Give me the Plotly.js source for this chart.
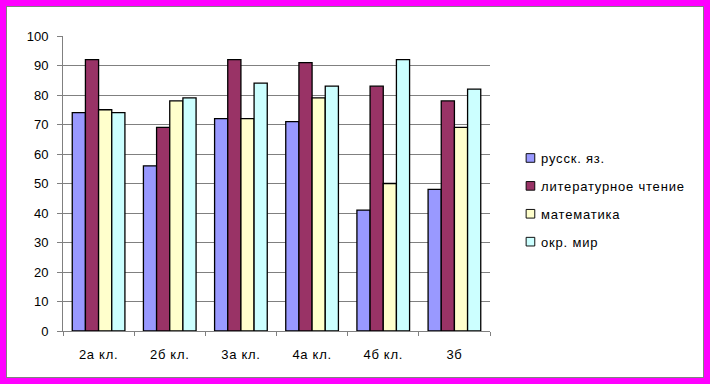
<!DOCTYPE html>
<html>
<head>
<meta charset="utf-8">
<script src="https://cdn.plot.ly/plotly-3.0.1.min.js"></script>
<style>
html,body{margin:0;padding:0;background:#FF00FF;}
#wrap{width:698px;height:372px;padding:6px;background:#FF00FF;}
#chart{width:696px;height:370px;border:1px solid #808080;background:#fff;overflow:hidden;}
#chart .legendtext{letter-spacing:0.8px;transform:translateX(-15px);}
#chart .legendpoints{transform:scale(0.72);}
#chart .xtick text{letter-spacing:0.7px;}
</style>
</head>
<body>
<div id="wrap"><div id="chart"></div></div>
<script>
var categories = ["2а кл.", "2б кл.", "3а кл.", "4а кл.", "4б кл.", "3б"];
var seriesNames = ["русск. яз.", "литературное чтение", "математика", "окр. мир"];
var russian = [74, 56, 72, 71, 41, 48];
var literature = [92, 69, 92, 91, 83, 78];
var maths = [75, 78, 72, 79, 50, 69];
var world = [74, 79, 84, 83, 92, 82];
var yTicks = [0, 10, 20, 30, 40, 50, 60, 70, 80, 90, 100];

var colors = ["#9999FF", "#993366", "#FFFFCC", "#CCFFFF"];
var values = [russian, literature, maths, world];

var traces = values.map(function (v, i) {
  return {
    type: "bar",
    x: categories,
    y: v,
    name: seriesNames[i],
    legendgroup: "g" + i,
    marker: {color: colors[i], line: {color: "#000000", width: 1.3}},
    hoverinfo: "x+y+name"
  };
});

var layout = {
  width: 696,
  height: 370,
  margin: {l: 56, r: 213, t: 29, b: 46, autoexpand: false},
  paper_bgcolor: "#ffffff",
  plot_bgcolor: "#ffffff",
  font: {family: "Liberation Sans, Arial, sans-serif", size: 13, color: "#000000"},
  barmode: "group",
  bargap: 0.26,
  bargroupgap: 0,
  showlegend: true,
  legend: {
    x: 1.061, y: 0.444, xanchor: "left", yanchor: "middle",
    traceorder: "grouped",
    tracegroupgap: 8,
    bgcolor: "rgba(0,0,0,0)",
    font: {size: 13, family: "Liberation Sans, Arial, sans-serif"},
    itemwidth: 30
  },
  xaxis: {
    type: "category",
    showline: true, linecolor: "#808080", linewidth: 1,
    ticks: "outside", tickson: "boundaries", ticklen: 4, tickcolor: "#808080",
    showgrid: false,
    ticklabelstandoff: 11,
    tickfont: {size: 13}
  },
  yaxis: {
    range: [0, 100],
    tickvals: yTicks,
    ticktext: yTicks.map(String),
    showline: true, linecolor: "#808080", linewidth: 1,
    ticks: "outside", ticklen: 5, tickcolor: "#808080",
    showgrid: true, gridcolor: "#808080", gridwidth: 1,
    zeroline: false,
    ticklabelstandoff: 6,
    tickfont: {size: 13}
  }
};

Plotly.newPlot("chart", traces, layout, {displayModeBar: false, staticPlot: true});
</script>
</body>
</html>
